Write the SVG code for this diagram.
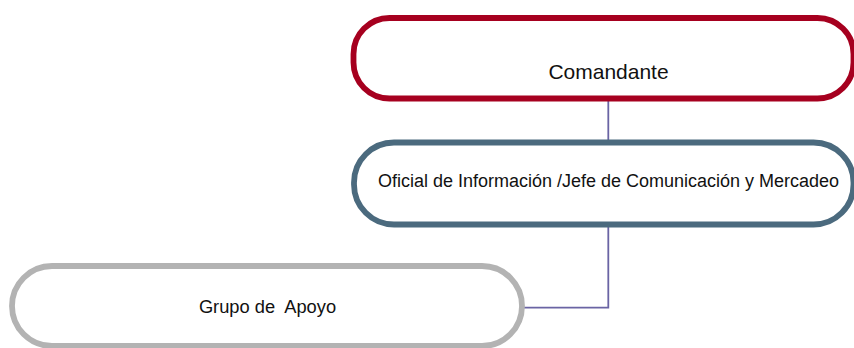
<svg xmlns="http://www.w3.org/2000/svg" width="854" height="348" viewBox="0 0 854 348">
<style>
.box{fill:#ffffff;stroke-width:5.8}
.lbl{font-family:"Liberation Sans",Arial,sans-serif;fill:#111111;text-anchor:middle}
.conn{fill:none;stroke:#6A64A4;stroke-width:1.8}
</style>
<rect width="854" height="348" fill="#ffffff"/>
<g id="connectors">
<line class="conn" x1="608.3" y1="98" x2="608.3" y2="142"/>
<polyline class="conn" points="608.3,225 608.3,307.7 522,307.7"/>
</g>
<g id="node-comandante">
<rect class="box" x="353.5" y="18" width="500" height="80.5" rx="36" ry="36" stroke="#A6001F"/>
<text class="lbl" x="608.5" y="78.5" font-size="21">Comandante</text>
</g>
<g id="node-oficial">
<rect class="box" x="354" y="142.5" width="499.5" height="82" rx="40" ry="40" stroke="#4B6A7E"/>
<text class="lbl" x="608.5" y="187" font-size="18">Oficial de Información /Jefe de Comunicación y Mercadeo</text>
</g>
<g id="node-grupo">
<rect class="box" x="12" y="266" width="510" height="80" rx="40" ry="40" stroke="#B3B3B3"/>
<text class="lbl" x="267.5" y="313" font-size="18.3" xml:space="preserve">Grupo de  Apoyo</text>
</g>
</svg>
